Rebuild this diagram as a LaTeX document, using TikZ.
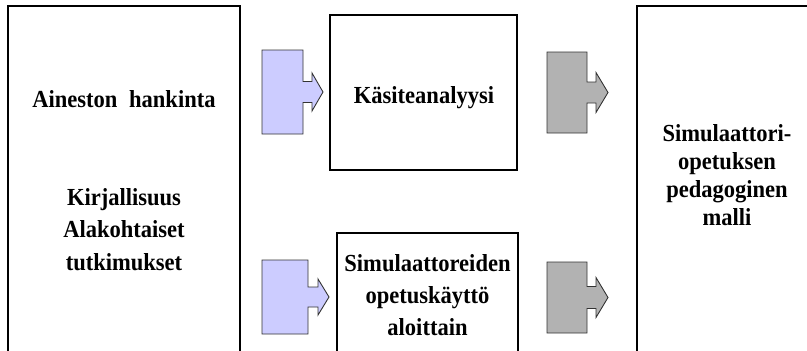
\documentclass[tikz,border=0pt]{standalone}
\usepackage{fontspec}
\setmainfont{Liberation Serif}
\newfontfamily\panelfont[FakeStretch=0.92]{Liberation Serif}

\definecolor{lavender}{HTML}{CCCCFF}
\definecolor{stone}{HTML}{B2B2B2}
\definecolor{edge}{HTML}{333333}

% Block arrow: #1 style, #2 left x, #3 body right x, #4 centre y,
% #5 body half height, #6 shaft half height, #7 shaft end x,
% #8 head half height, #9 tip x
\newcommand{\blockarrow}[9]{%
  \draw[#1] (#2,#4-#5) -- (#3,#4-#5) -- (#3,#4-#6) -- (#7,#4-#6)
    -- (#7,#4-#8) -- (#9,#4) -- (#7,#4+#8) -- (#7,#4+#6)
    -- (#3,#4+#6) -- (#3,#4+#5) -- (#2,#4+#5) -- cycle;}

\tikzset{
  panel/.style={draw=black, line width=1.1pt, fill=white},
  label/.style={font=\panelfont\bfseries\fontsize{24.5}{28}\selectfont,
                align=center, inner sep=0pt, anchor=base},
  inarrow/.style={draw=edge, line width=0.9pt, fill=lavender, line join=miter},
  outarrow/.style={draw=edge, line width=0.9pt, fill=stone, line join=miter},
}

\begin{document}
\begin{tikzpicture}[x=1pt, y=-1pt]
\useasboundingbox (0,0) rectangle (807,351);
\clip (0,0) rectangle (807,351);

% framed panels
\path[panel] (8,6) rectangle (240,370);
\path[panel] (330,15) rectangle (517,170);
\path[panel] (337,233) rectangle (518,370);
\path[panel] (637,6) rectangle (830,370);

% panel texts (multi-line nodes sit on the baseline of their last line)
\node[label] (src) at (124,107) {Aineston\hspace{6pt} hankinta};
\node[label, font=\panelfont\bfseries\fontsize{24.5}{32.5}\selectfont] (lit)
  at (124,270) {Kirjallisuus\\Alakohtaiset\\tutkimukset};
\node[label] (concept) at (424,103) {Käsiteanalyysi};
\node[label, font=\panelfont\bfseries\fontsize{24.5}{32}\selectfont] (usage)
  at (427.5,335) {Simulaattoreiden\\opetuskäyttö\\aloittain};
\node[label, font=\panelfont\bfseries\fontsize{24.5}{27.7}\selectfont] (model)
  at (727,225) {Simulaattori-\\opetuksen\\pedagoginen\\malli};

% input arrows
\blockarrow{inarrow}{262}{303}{92}{42}{10.5}{312}{19}{323}
\blockarrow{inarrow}{262}{308}{297}{37}{10}{318}{18}{329}

% output arrows
\blockarrow{outarrow}{547}{587}{92.5}{40.5}{10.5}{596}{20}{608}
\blockarrow{outarrow}{547}{587}{297.5}{35.5}{11}{596}{20}{608}
\end{tikzpicture}
\end{document}
